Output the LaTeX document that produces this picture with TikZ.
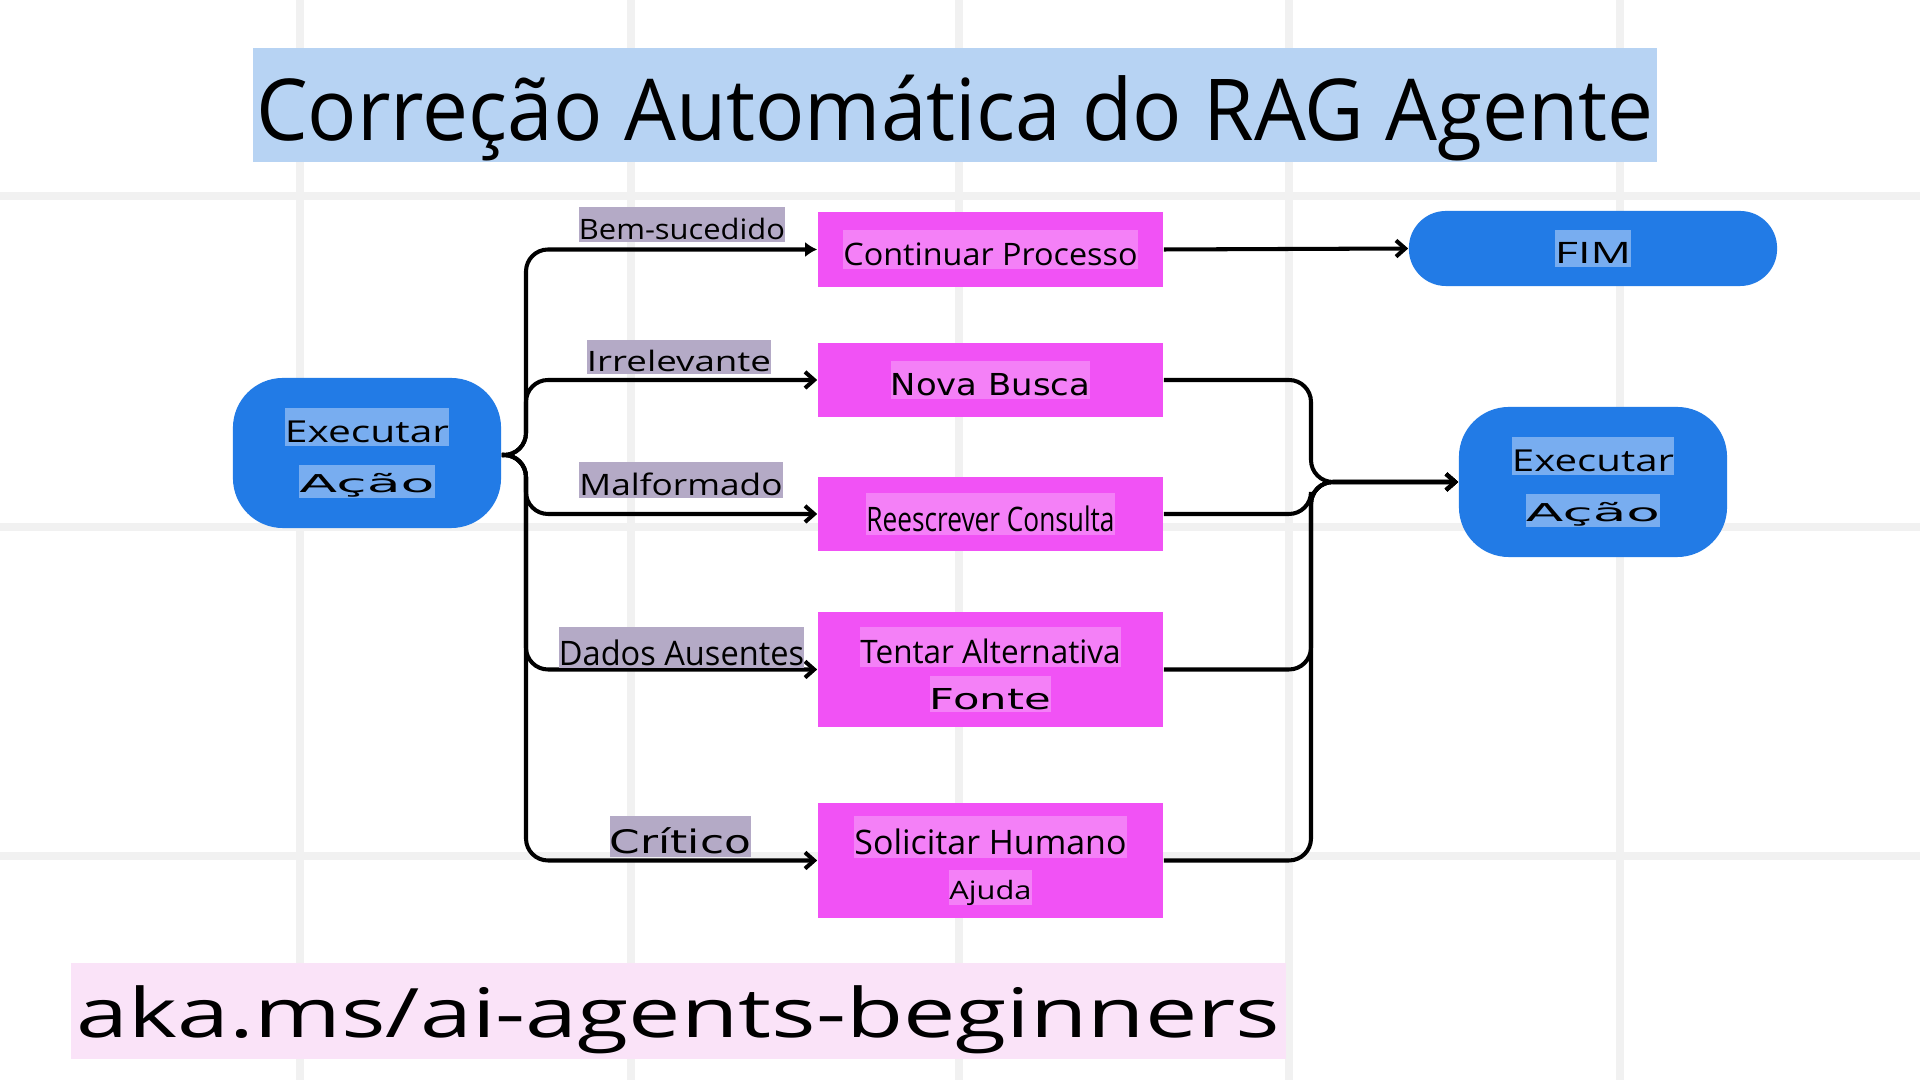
\documentclass[tikz,border=0pt]{standalone}
\usepackage{fontspec}
\setmainfont{Open Sans}
\newfontfamily\wide{DejaVu Sans}
\usepackage{graphicx}
\usetikzlibrary{arrows.meta}

\definecolor{gridgray}{RGB}{241,241,241}
\definecolor{titleblue}{RGB}{183,211,243}
\definecolor{termblue}{RGB}{34,123,230}
\definecolor{hlblue}{RGB}{120,173,240}
\definecolor{steppink}{RGB}{241,82,245}
\definecolor{hlpink}{RGB}{244,128,247}
\definecolor{hlgray}{RGB}{180,170,198}
\definecolor{footpink}{RGB}{250,227,248}

\setlength{\fboxsep}{0pt}
\newlength\fitnat
% squeeze a text to a width in px (1px = 0.01cm)
\newcommand\fitw[2]{\settowidth\fitnat{#2}\pgfmathsetmacro\fitr{#1*0.28453/\fitnat}\scalebox{\fitr}[1]{#2}}
\newcommand\hlbox[3]{\colorbox{#1}{\rule[-0.1em]{0pt}{1.24em}\fitw{#2}{#3}}}
\newcommand\fs[2]{\fontsize{#1}{#2}\selectfont}

\begin{document}
\begin{tikzpicture}[x = 0.01cm, y = -0.01cm,
		term/.style = {fill = termblue, rounded corners = 0.5cm, minimum width = 2.68cm, minimum height = 1.5cm, align = center, inner sep = 0pt},
		endpill/.style = {fill = termblue, rounded corners = 0.37cm, minimum width = 3.68cm, minimum height = 0.75cm, inner sep = 0pt},
		stepbox/.style = {fill = steppink, minimum width = 3.45cm, minimum height = 0.74cm, align = center, inner sep = 0pt},
		tallbox/.style = {stepbox, minimum height = 1.15cm},
		cond/.style = {inner sep = 0pt},
		conn/.style = {line width = 1.15pt, rounded corners = 0.22cm, -{Straight Barb[length = 2.6pt, width = 4.6pt]}}]
		\fill [white] (0, 0) rectangle (1920, 1080) ;
		\useasboundingbox (0, 0) rectangle (1920, 1080) ;
		\begin{scope} % Grid
			\foreach \gx in {300, 631, 959, 1289, 1620}{
				\draw [gridgray, line width = 0.075cm] (\gx, 0) -- (\gx, 1080) ;
			}
			\foreach \gy in {196, 527, 856}{
				\draw [gridgray, line width = 0.075cm] (0, \gy) -- (1920, \gy) ;
			}
		\end{scope}
		\node [fill = titleblue, minimum width = 14.04cm, minimum height = 1.14cm, inner sep = 0pt, text height = 0.91cm, text depth = 0.2cm, font = \fs{24.3}{29}] (title) at (955, 105) {\fitw{1397}{Correção Automática do RAG Agente}} ;
		\node [fill = footpink, minimum width = 12.15cm, minimum height = 0.96cm, inner sep = 0pt, text height = 0.72cm, text depth = 0.2cm, font = \fs{19.4}{23}] (link) at (678.5, 1011) {\fitw{1203}{aka.ms/ai-agents-beginners}} ;
		% Nodes
		\node [term, font = \fs{8.6}{14.2}] (execL) at (367, 453) {\hlbox{hlblue}{164}{Executar}\\{\wide\fs{7}{14.2}\hlbox{hlblue}{135}{Ação}}} ;
		\node [term, font = \fs{8.6}{14.2}] (execR) at (1593, 482) {\hlbox{hlblue}{162}{Executar}\\{\wide\fs{7}{14.2}\hlbox{hlblue}{134}{Ação}}} ;
		\node [endpill, font = \fs{8.4}{10}] (fim) at (1593, 248.5) {\hlbox{hlblue}{76}{FIM}} ;
		\node [stepbox, font = \fs{8.8}{10}] (cont) at (990.5, 249.5) {\hlbox{hlpink}{294}{Continuar Processo}} ;
		\node [stepbox, font = \wide\fs{8.6}{10}] (nova) at (990.5, 380) {\hlbox{hlpink}{199}{Nova Busca}} ;
		\node [stepbox, font = \fs{9.6}{11}] (reesc) at (990.5, 514) {\hlbox{hlpink}{248}{Reescrever Consulta}} ;
		\node [tallbox, font = \fs{9.2}{12.9}] (tentar) at (990.5, 669.5) {\hlbox{hlpink}{260}{Tentar Alternativa}\\{\wide\fs{8.2}{12.9}\hlbox{hlpink}{121}{Fonte}}} ;
		\node [tallbox, font = \fs{9.6}{12.7}] (solic) at (990.5, 860.5) {\hlbox{hlpink}{272}{Solicitar Humano}\\{\fs{7.2}{12.7}\hlbox{hlpink}{82}{Ajuda}}} ;
		\coordinate (splitL) at (526, 455) ;
		\coordinate (mergeR) at (1311, 482) ;
		% Connectors
		\draw [conn, -{Latex[length = 3.4pt, width = 4.3pt]}] (execL.east |- splitL) -- (splitL) |- (cont.west) ;
		\draw [conn] (execL.east |- splitL) -- (splitL) |- (nova.west) ;
		\draw [conn] (execL.east |- splitL) -- (splitL) |- (reesc.west) ;
		\draw [conn] (execL.east |- splitL) -- (splitL) |- (tentar.west) ;
		\draw [conn] (execL.east |- splitL) -- (splitL) |- (solic.west) ;
		\draw [conn] (cont.east) -- (fim.west) ;
		\foreach \src in {nova, reesc, tentar, solic}{
			\draw [conn] (\src.east) -| (mergeR) -- (execR.west) ;
		}
		% Labels
		\node [cond, font = \fs{8}{10}] (lblok) at (682, 224.5) {\hlbox{hlgray}{206}{Bem-sucedido}} ;
		\node [cond, font = \fs{8}{10}] (lblirr) at (679, 357) {\hlbox{hlgray}{184}{Irrelevante}} ;
		\node [cond, font = \fs{8.4}{10}] (lblmal) at (681, 480) {\hlbox{hlgray}{203}{Malformado}} ;
		\node [cond, font = \fs{9.6}{11}] (lbldados) at (681.5, 647.5) {\hlbox{hlgray}{245}{Dados Ausentes}} ;
		\node [cond, font = \wide\fs{9.2}{11}] (lblcrit) at (680.5, 836.5) {\hlbox{hlgray}{141}{Crítico}} ;
	\end{tikzpicture}
\end{document}
